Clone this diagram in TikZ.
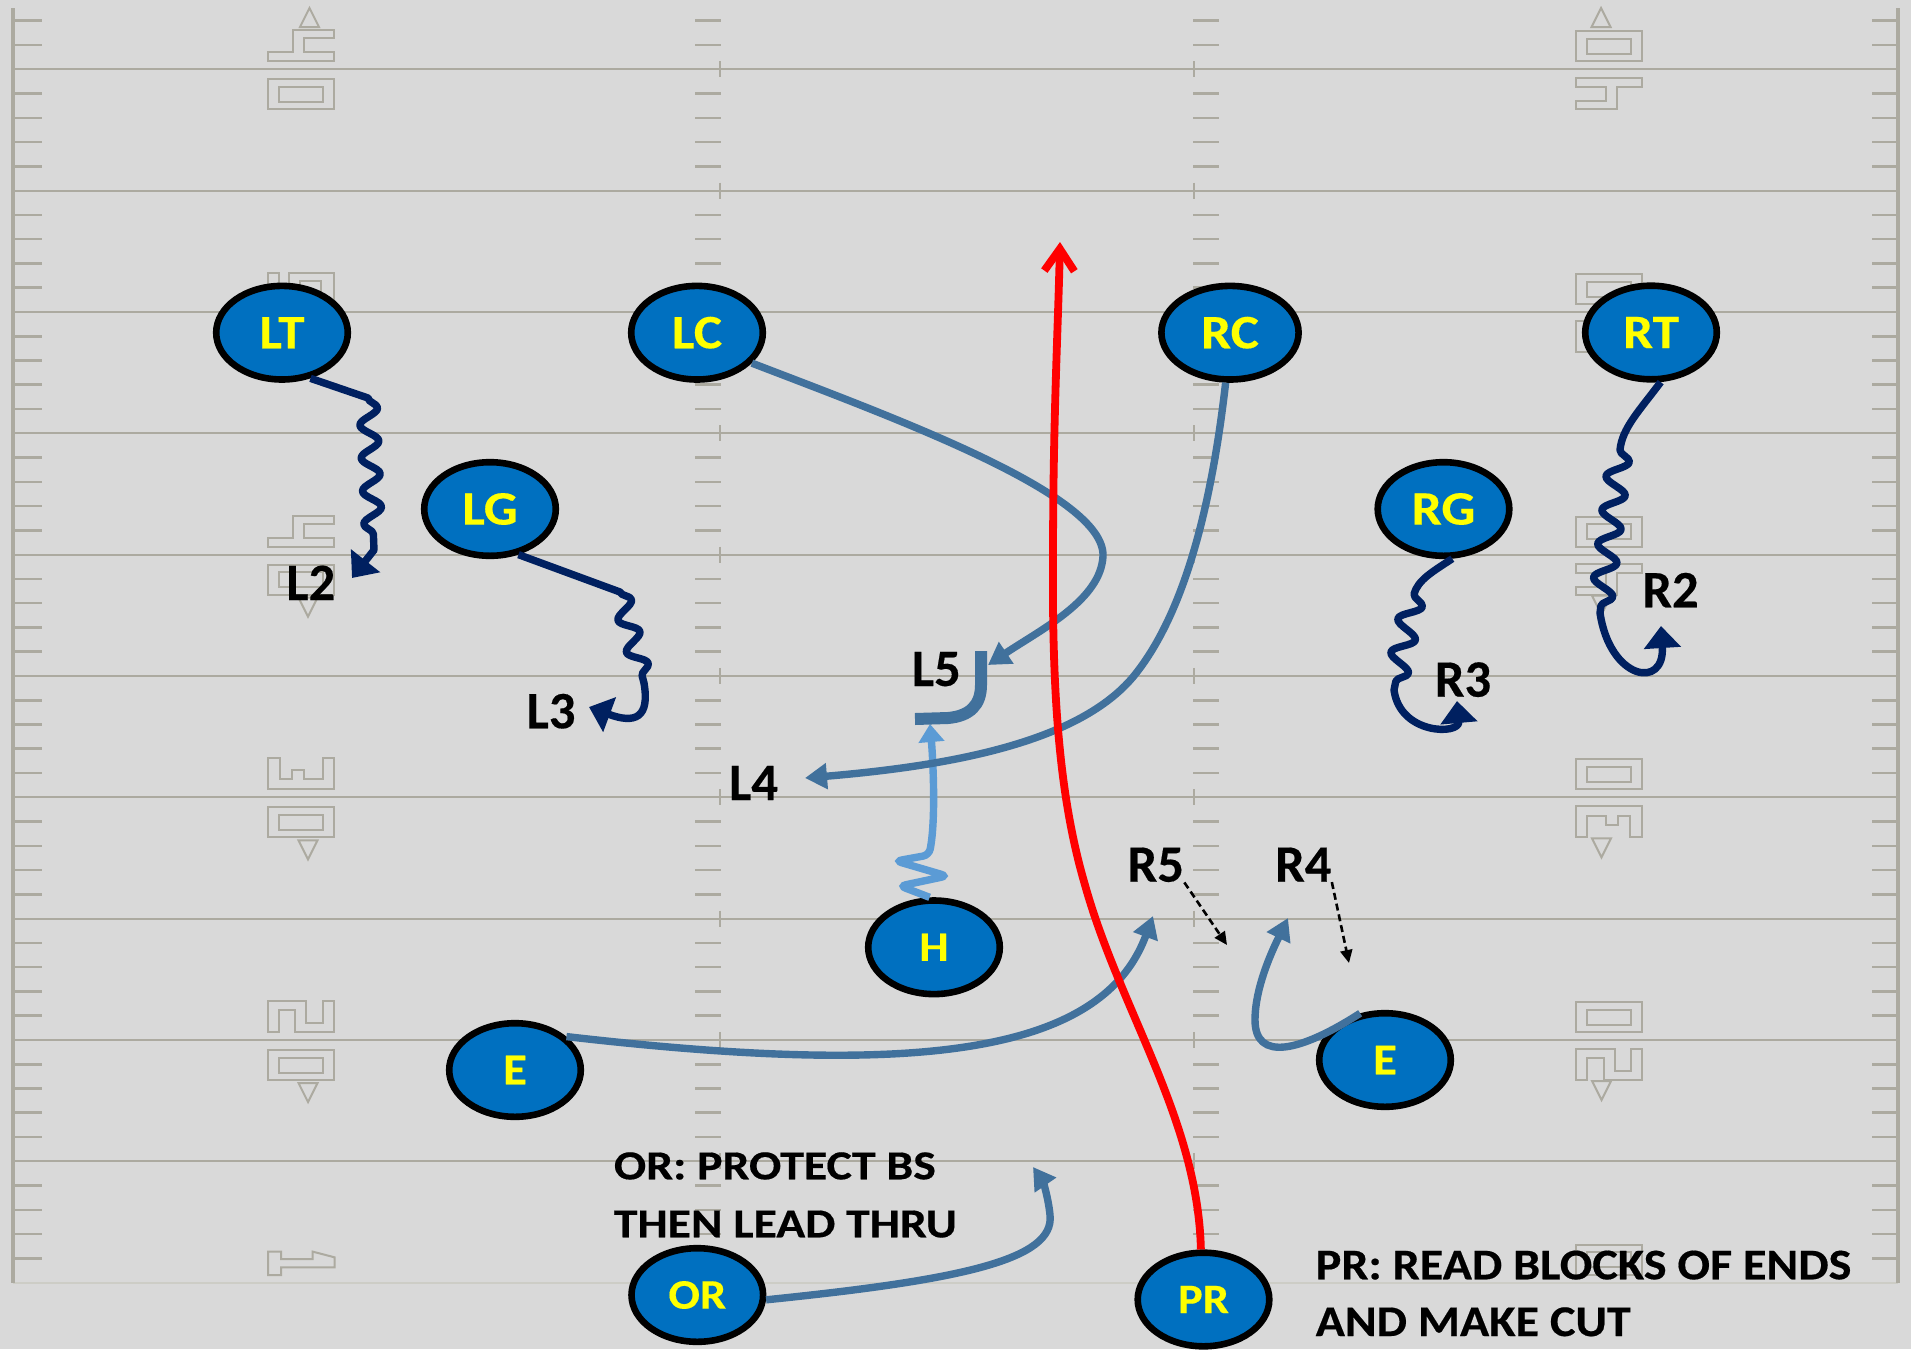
\documentclass[tikz,border=0pt]{standalone}
\usepackage{fontspec}
\setmainfont{Carlito}
\newfontfamily\wfont{Carlito}[FakeStretch=1.11,FakeBold=0.3]
\newfontfamily\lfont{Carlito}[FakeBold=0.3]
\newfontfamily\orfont{Carlito}[FakeStretch=1.16,FakeBold=0.4]
\newfontfamily\prfont{Carlito}[FakeStretch=1.10,FakeBold=0.4]
\usetikzlibrary{arrows.meta,decorations.pathmorphing,shapes.geometric}
\definecolor{bg}{RGB}{217,217,217}
\definecolor{fieldc}{RGB}{172,170,160}
\definecolor{fieldlight}{RGB}{205,205,198}
\definecolor{pblue}{RGB}{0,112,192}
\definecolor{pyellow}{RGB}{255,255,0}
\definecolor{navy}{RGB}{0,32,96}
\definecolor{steel}{RGB}{65,113,156}
\definecolor{lblue}{RGB}{91,155,213}
\definecolor{rred}{RGB}{255,0,0}
\tikzset{
  numsty/.style={draw=fieldc,line width=1pt},
  pics/dfour/.style={code={\draw[numsty] (0,22)--(25,22)--(25,0)--(66,0)--(66,8)--(36,8)--(36,22)--(66,22)--(66,31)--(0,31)--cycle;}},
  pics/dfive/.style={code={\draw[numsty] (0,0)--(11,0)--(11,22)--(21,22)--(21,0)--(66,0)--(66,31)--(53,31)--(53,8)--(32,8)--(32,31)--(0,31)--cycle;}},
  pics/dthree/.style={code={\draw[numsty] (0,0)--(12,0)--(12,21)--(24,21)--(24,12)--(36,12)--(36,21)--(55,21)--(55,0)--(66,0)--(66,31)--(0,31)--cycle;}},
  pics/dtwo/.style={code={\draw[numsty] (0,0)--(38,0)--(38,22)--(55,22)--(55,0)--(66,0)--(66,31)--(27,31)--(27,9)--(11,9)--(11,31)--(0,31)--cycle;}},
  pics/done/.style={code={\draw[numsty] (0,8)--(13,8)--(13,15.4)--(44.7,15.4)--(44.7,8)--(66.5,13.7)--(66.5,23.7)--(13,23.7)--(13,31.4)--(0,31.4)--cycle;}},
  pics/zero/.style={code={\draw[numsty] (0,0) rectangle (66,30); \draw[numsty] (11,7.5) rectangle (55,22.5);}},
  pics/tri/.style={code={\draw[numsty] (0,0)--(-9.5,19)--(9.5,19)--cycle;}},
}
\begin{document}
\begin{tikzpicture}[x=0.5pt,y=-0.5pt,
  fieldline/.style={draw=fieldc,line width=1pt},
  tick/.style={draw=fieldc,line width=1.3pt},
  player/.style={ellipse,draw=black,line width=3.3pt,fill=pblue,text=pyellow,inner sep=0pt,
    minimum width=65.8pt,minimum height=46.8pt,font=\wfont\bfseries\fontsize{24}{24}\selectfont},
  psmall/.style={player,font=\wfont\bfseries\fontsize{21}{21}\selectfont},
  lbl/.style={inner sep=0pt,anchor=base,font=\lfont\bfseries\fontsize{26.3}{26.3}\selectfont},
  noteor/.style={inner sep=0pt,anchor=base west,font=\orfont\bfseries\fontsize{20.6}{20.6}\selectfont},
  notepr/.style={inner sep=0pt,anchor=base west,font=\prfont\bfseries\fontsize{21.9}{21.9}\selectfont},
  navyroute/.style={draw=navy,line width=3.7pt,line join=round,-{Triangle[length=11pt,width=18pt]}},
  steelroute/.style={draw=steel,line width=3.7pt,-{Triangle[length=11pt,width=12.5pt]}},
  lblueroute/.style={draw=lblue,line width=3.7pt,-{Triangle[length=9pt,width=12.5pt]}},
  redroute/.style={draw=rred,line width=3.9pt,-{Straight Barb[length=11pt,width=15pt]}},
  dashroute/.style={draw=black,line width=1.3pt,dash pattern=on 3.5pt off 2pt,-{Triangle[length=6.5pt,width=6pt]}},
  snk/.style={decoration={snake,segment length=16.5pt,amplitude=4.6pt}},
  snkb/.style={decoration={snake,segment length=17pt,amplitude=5.4pt}},
]
% background
\fill[bg] (0,0) rectangle (1911,1349);
% yard lines and hash marks
\foreach \i in {0,...,9}{
  \pgfmathsetmacro\L{69.3+121.33*\i}
  \draw[fieldline] (13,\L)--(1898,\L);
  \draw[tick] (720,\L-8)--(720,\L+8);
  \draw[tick] (1194,\L-8)--(1194,\L+8);
}
\draw[draw=fieldlight,line width=1pt] (13,1282.6)--(1898,1282.6);
\foreach \i in {-1,...,9}{\foreach \k in {1,...,4}{
  \pgfmathsetmacro\T{69.3+121.33*\i+24.267*\k}
  \ifdim\T pt>10pt
    \draw[tick] (15,\T)--(42,\T);
    \draw[tick] (1872,\T)--(1898,\T);
    \draw[tick] (695,\T)--(721,\T);
    \draw[tick] (1193,\T)--(1219,\T);
  \fi
}}
\draw[draw=fieldc,line width=1.7pt] (13,8)--(13,1282.6);
\draw[draw=fieldc,line width=1.7pt] (1898,8)--(1898,1282.6);
% yard numbers
\pic at (268,30.3) {dfour}; \pic at (268,79.3) {zero}; \pic at (309.5,8) {tri};
\pic[rotate=180] at (1642,61.3) {zero}; \pic[rotate=180] at (1642,109.3) {dfour}; \pic at (1601,8) {tri};
\pic at (268,273) {dfive}; \pic at (268,322) {zero};
\pic[rotate=180] at (1642,304) {zero}; \pic[rotate=180] at (1642,352) {dfive};
\pic at (268,515.6) {dfour}; \pic at (268,564.6) {zero}; \pic[rotate=180] at (308,616.6) {tri};
\pic[rotate=180] at (1642,546.6) {zero}; \pic[rotate=180] at (1642,594.6) {dfour}; \pic[rotate=180] at (1601.5,614.6) {tri};
\pic at (268,758.3) {dthree}; \pic at (268,807.3) {zero}; \pic[rotate=180] at (308,859.3) {tri};
\pic[rotate=180] at (1642,789.3) {zero}; \pic[rotate=180] at (1642,837.3) {dthree}; \pic[rotate=180] at (1601.5,857.3) {tri};
\pic at (268,1001) {dtwo}; \pic at (268,1050) {zero}; \pic[rotate=180] at (308,1102) {tri};
\pic[rotate=180] at (1642,1032) {zero}; \pic[rotate=180] at (1642,1080) {dtwo}; \pic[rotate=180] at (1601.5,1100) {tri};
\pic at (268,1243.6) {done};
\pic[rotate=180] at (1642,1274.6) {zero};

% players
\node[player] (LT) at (282,332.7) {LT};
\node[player] (LG) at (490,509) {LG};
\node[player] (LC) at (697,332.7) {LC};
\node[player,minimum width=68.6pt] (RC) at (1230,332.7) {RC};
\node[player] (RT) at (1651,332.5) {RT};
\node[player] (RG) at (1443.5,509) {RG};
\node[psmall] (H) at (934,947.3) {H};
\node[psmall,font=\wfont\bfseries\fontsize{22}{22}\selectfont] (E1) at (515,1070) {E};
\node[psmall,font=\wfont\bfseries\fontsize{22}{22}\selectfont] (E2) at (1385,1060) {E};
\node[psmall] (OR) at (697.3,1295) {OR};
\node[psmall] (PR) at (1203.5,1299.5) {PR};

% labels
\node[lbl] (L2) at (310.8,600) {L2};
\node[lbl] (L3) at (551,728.3) {L3};
\node[lbl] (L5) at (936.3,686) {L5};
\node[lbl] (L4) at (753.5,800) {L4};
\node[lbl] (R5) at (1155.8,881.7) {R5};
\node[lbl] (R4) at (1303.3,881.7) {R4};
\node[lbl] (R3) at (1463,696.7) {R3};
\node[lbl] (R2) at (1670.5,607.3) {R2};
\node[noteor] (ort1) at (613.5,1179.3) {OR: PROTECT BS};
\node[noteor] (ort2) at (613.5,1237.3) {THEN LEAD THRU};
\node[notepr] (prt1) at (1315.3,1279.3) {PR: READ BLOCKS OF ENDS};
\node[notepr] (prt2) at (1315.3,1336) {AND MAKE CUT};

% route end points
\coordinate (l2tip) at (352,578);
\coordinate (l3tip) at (589,707);
\coordinate (r3tip) at (1457,701);
\coordinate (r2tip) at (1661,626);
\coordinate (l5tip) at (988,665);
\coordinate (l4tip) at (805,778);
\coordinate (hooktip) at (930,724);
\coordinate (r5tip) at (1153,916);
\coordinate (r4tip) at (1288,918);
\coordinate (ortip) at (1033,1167);
\coordinate (prtip) at (1060,242);
\coordinate (r5d) at (1227,945);
\coordinate (r4d) at (1349,963);

% navy routes
\draw[navyroute] (LT.-58) -- (368,398) decorate[snk]{-- (374,550)} -- (l2tip);
\draw[navyroute] (LG.-58) -- (620,592) decorate[snk]{-- (644,683)} .. controls (650,718) and (635,724) .. (l3tip);
\draw[navyroute] (RG.-80) .. controls (1432,572) and (1418,580) .. (1414,594) decorate[snkb]{-- (1394,690)} .. controls (1400,735) and (1460,735) .. (r3tip);
\draw[navyroute] (RT.-79) .. controls (1640,410) and (1622,428) .. (1620,450) decorate[snkb]{-- (1600,613)} .. controls (1610,680) and (1665,690) .. (r2tip);

% H route and block mark
\draw[lblueroute,rounded corners=3pt] (H.95) -- (900,886) -- (947,876) -- (896,861) -- (929,855) .. controls (936,820) and (933,760) .. (hooktip);
\draw[draw=steel,line width=6pt] (915,719) -- (948,718) .. controls (970,716) and (981,705) .. (981,685) -- (981,651);

% steel routes
\draw[steelroute] (LC.-29) .. controls (900,420) and (1105,495) .. (1103,556) .. controls (1101,600) and (1040,630) .. (l5tip);
\draw[steelroute] (RC.-95) .. controls (1210,520) and (1180,620) .. (1133,677) .. controls (1080,740) and (960,765) .. (l4tip);
\draw[steelroute] (E1.33) .. controls (900,1075) and (1100,1060) .. (r5tip);
\draw[steelroute] (E2.118) .. controls (1300,1052) and (1255,1062) .. (1255,1020) .. controls (1255,985) and (1275,945) .. (r4tip);
\draw[steelroute] (OR.-4) .. controls (960,1280) and (1055,1260) .. (1050,1215) .. controls (1048,1195) and (1042,1180) .. (ortip);

% red route
\draw[redroute] (PR.93) .. controls (1198,1120) and (1120,1010) .. (1085,885) .. controls (1060,800) and (1052,700) .. (1053,560) .. controls (1053,420) and (1058,330) .. (prtip);

% dashed read arrows
\draw[dashroute] (R5.south east) -- (r5d);
\draw[dashroute] (R4.south east) -- (r4d);
\end{tikzpicture}
\end{document}
